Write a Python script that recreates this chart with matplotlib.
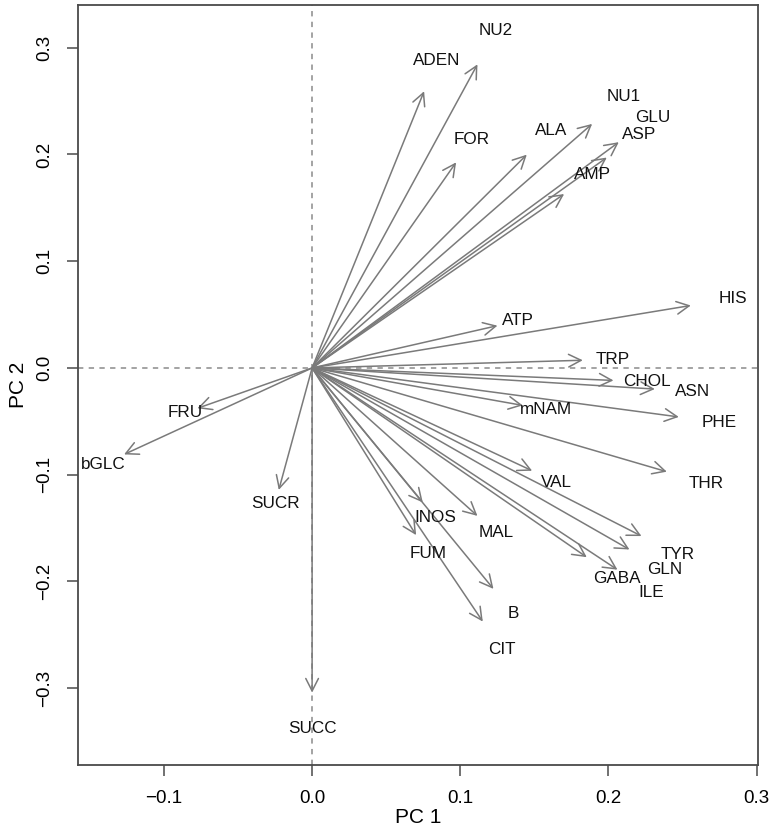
"""
Biplot of PCA loadings (PC 1 vs PC 2), R-style arrows from the origin.
"""
import matplotlib
matplotlib.use("Agg")
import matplotlib.pyplot as plt
import numpy as np

# ---- data: variable loadings (label positions) ---------------------------
labels = ["NU2", "ADEN", "NU1", "GLU", "ALA", "ASP", "FOR", "AMP", "HIS",
          "ATP", "TRP", "CHOL", "ASN", "mNAM", "PHE", "VAL", "THR", "INOS",
          "MAL", "FUM", "TYR", "GLN", "GABA", "ILE", "B", "CIT",
          "FRU", "bGLC", "SUCR", "SUCC"]
pc1 = [0.124, 0.084, 0.210, 0.230, 0.161, 0.221, 0.108, 0.189, 0.284,
       0.139, 0.203, 0.226, 0.257, 0.158, 0.275, 0.165, 0.266, 0.083,
       0.124, 0.078, 0.247, 0.238, 0.206, 0.229, 0.136, 0.128,
       -0.086, -0.141, -0.025, 0.000]
pc2 = [0.316, 0.288, 0.254, 0.235, 0.222, 0.219, 0.214, 0.181, 0.065,
       0.044, 0.008, -0.013, -0.022, -0.039, -0.051, -0.107, -0.108, -0.140,
       -0.154, -0.174, -0.175, -0.189, -0.197, -0.210, -0.230, -0.264,
       -0.042, -0.090, -0.127, -0.338]
ARROW_SCALE = 0.9          # arrows stop short of the label positions

xticks = [-0.1, 0.0, 0.1, 0.2, 0.3]
yticks = [-0.3, -0.2, -0.1, 0.0, 0.1, 0.2, 0.3]

ARROW = "#7a7a7a"
GUIDE = "#8a8a8a"
BOX = "#4a4a4a"
INK = "#111111"

plt.rcParams.update({
    "font.family": ["Liberation Sans", "DejaVu Sans"],
    "font.size": 12,
    "text.color": INK,
})

fig = plt.figure(figsize=(7.74, 8.34), dpi=100)
ax = fig.add_axes([0.1008, 0.0827, 0.8786, 0.9113])

ax.axhline(0, color=GUIDE, lw=1.1, ls=(0, (3.5, 3.5)), zorder=1)
ax.axvline(0, color=GUIDE, lw=1.1, ls=(0, (3.5, 3.5)), zorder=1)

tx = ARROW_SCALE * np.array(pc1)
ty = ARROW_SCALE * np.array(pc2)
for x, y in zip(tx, ty):
    ax.annotate("", xy=(x, y), xytext=(0, 0),
                arrowprops=dict(arrowstyle="->,head_length=0.75,head_width=0.38",
                                color=ARROW, lw=1.1, shrinkA=0, shrinkB=0),
                zorder=2)
for lab, x, y in zip(labels, pc1, pc2):
    ax.text(x, y, lab, ha="center", va="center", fontsize=12.3, color=INK,
            zorder=3)

ax.set_xlim(-0.158, 0.301)
ax.set_ylim(-0.372, 0.340)
ax.set_xticks(xticks)
ax.set_xticklabels([f"{v:.1f}".replace("-", "\u2212") for v in xticks],
                   fontsize=13.5)
ax.set_yticks(yticks)
ax.set_yticklabels([f"{v:.1f}".replace("-", "\u2212") for v in yticks],
                   fontsize=13.5, rotation=90, va="center")
ax.tick_params(direction="out", length=8, width=1.1, color=BOX, pad=10)
for s in ax.spines.values():
    s.set_color(BOX)
    s.set_linewidth(1.3)

ax.set_xlabel("PC 1", fontsize=15, labelpad=1)
ax.set_ylabel("PC 2", fontsize=15, labelpad=6)

fig.savefig("out.png", dpi=100)
